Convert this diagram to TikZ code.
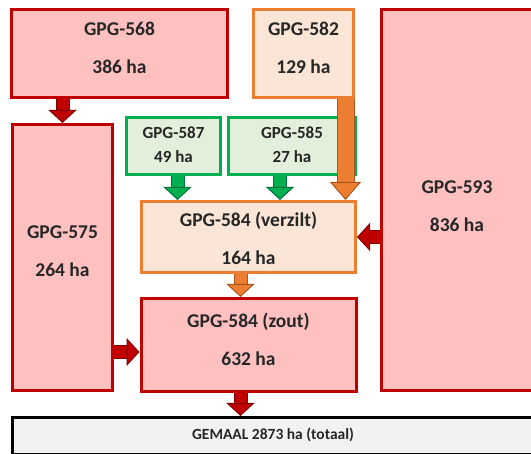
\documentclass[tikz,border=0pt]{standalone}
\usepackage{fontspec}
\setmainfont{Carlito}
\usetikzlibrary{arrows.meta}

\definecolor{redline}{HTML}{C00000}
\definecolor{redfill}{HTML}{FFC0C0}
\definecolor{orline}{HTML}{ED7D31}
\definecolor{orfill}{HTML}{FBE5D6}
\definecolor{grline}{HTML}{00B050}
\definecolor{grfill}{HTML}{E2EFDA}
\definecolor{rededge}{HTML}{7F0000}
\definecolor{oredge}{HTML}{A8571F}
\definecolor{gredge}{HTML}{00703A}
\definecolor{pumpfill}{HTML}{F2F2F2}
\definecolor{txt}{HTML}{262626}

\begin{document}
\begin{tikzpicture}[
  x=1pt, y=-1pt,
  area/.style={rectangle, line width=3pt, inner sep=0pt},
  bigtxt/.style={align=center, text=txt, font=\fontsize{19.5}{38}\selectfont\bfseries},
  smalltxt/.style={align=center, text=txt, font=\fontsize{17}{24}\selectfont\bfseries},
  redbox/.style={area, draw=redline, fill=redfill},
  orbox/.style={area, draw=orline, fill=orfill},
  grbox/.style={area, draw=grline, fill=grfill},
  pumpbox/.style={area, draw=black, fill=pumpfill},
  blockarr/.style 2 args={line width=12pt, draw=#1,
               -{Triangle[width=28pt, length=13pt, line width=1pt, fill=#1, color=#2]},
               preaction={draw=#2, line width=14pt, -, shorten >=12pt}},
  redarr/.style={blockarr={redline}{rededge}},
  orarr/.style={blockarr={orline}{oredge}},
  grarr/.style={blockarr={grline}{gredge}},
]
\useasboundingbox (0,0) rectangle (531,454);
\begin{scope}
\clip (0,0) rectangle (531,454);

% --- areas ---
\node[redbox, minimum width=216pt, minimum height=88pt,
      label={[bigtxt, yshift=5.5pt]center:GPG-568\\386 ha}] (n568) at (119.5,53.5) {};
\node[orbox, minimum width=100pt, minimum height=88pt,
      label={[bigtxt, yshift=5.5pt]center:GPG-582\\129 ha}] (n582) at (303.5,53.5) {};
\node[redbox, minimum width=151pt, minimum height=381pt,
      label={[bigtxt, yshift=-6pt]center:GPG-593\\836 ha}] (n593) at (457,200) {};
\node[redbox, minimum width=100pt, minimum height=266pt,
      label={[bigtxt, yshift=6.5pt]center:GPG-575\\264 ha}] (n575) at (62.5,257.5) {};
\node[grbox, minimum width=94pt, minimum height=57pt,
      label={[smalltxt, yshift=1pt]center:GPG-587\\49 ha}] (n587) at (173.5,146) {};
\node[grbox, minimum width=127pt, minimum height=57pt,
      label={[smalltxt, yshift=1pt]center:GPG-585\\27 ha}] (n585) at (292,146) {};
\node[orbox, minimum width=214pt, minimum height=71pt,
      label={[bigtxt, yshift=-1.5pt]center:GPG-584 (verzilt)\\164 ha}] (n584v) at (248.5,237) {};
\node[redbox, minimum width=215pt, minimum height=93pt,
      label={[bigtxt, yshift=6pt]center:GPG-584 (zout)\\632 ha}] (n584z) at (248.5,345) {};
\node[pumpbox, minimum width=546pt, minimum height=37pt,
      label={[text=txt, font=\fontsize{15.5}{18}\selectfont\bfseries, xshift=-12.5pt, yshift=1pt]center:GEMAAL 2873 ha (totaal)}] (pump) at (285.5,436) {};

% --- flows ---
\draw[redarr] (n568.south -| n575.north) -- (n575.north);
\draw[grarr] ([xshift=4pt]n587.south) -- ([xshift=4pt]n587.south |- n584v.north);
\draw[grarr] ([xshift=-12pt]n585.south) -- ([xshift=-12pt]n585.south |- n584v.north);
\draw[orarr, line width=16pt, -{Triangle[width=31pt, length=18pt, line width=1pt, fill=orline, color=oredge]},
      preaction={draw=oredge, line width=18pt, -, shorten >=17pt}]
  ([xshift=42pt]n582.south) -- ([xshift=42pt]n582.south |- n584v.north);
\draw[redarr] (n593.west |- n584v.east) -- (n584v.east);
\draw[orarr] ([xshift=-8pt]n584v.south) -- ([xshift=-8pt]n584v.south |- n584z.north);
\draw[redarr] ([yshift=-7pt]n584z.west -| n575.east) -- ([yshift=-7pt]n584z.west);
\draw[redarr] ([xshift=-8pt]n584z.south) -- ([xshift=-8pt]n584z.south |- pump.north);
\end{scope}
\end{tikzpicture}
\end{document}
